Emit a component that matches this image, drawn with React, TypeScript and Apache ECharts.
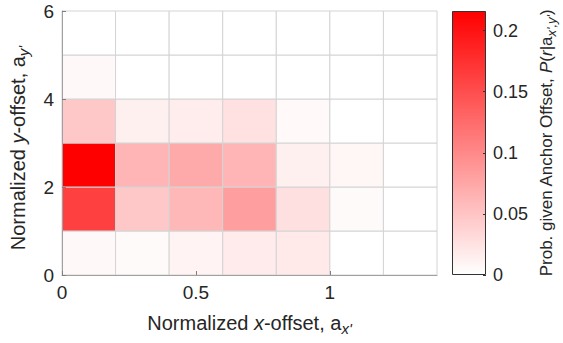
import React, { useEffect, useRef } from "react";
import * as echarts from "echarts";

// Bin centres (normalized x-offset and y-offset) and bin sizes
const xCenters = [0.1, 0.3, 0.5, 0.7, 0.9, 1.1, 1.3];
const yCenters = [0.5, 1.5, 2.5, 3.5, 4.5, 5.5];
const binWidth = 0.2;
const binHeight = 1;

// Probability per bin, one array per y-row (bottom to top)
const row0 = [0.006, 0.004, 0.01, 0.017, 0.019, 0, 0];
const row1 = [0.162, 0.047, 0.06, 0.082, 0.026, 0.004, 0];
const row2 = [0.216, 0.063, 0.072, 0.063, 0.013, 0.008, 0];
const row3 = [0.047, 0.013, 0.016, 0.025, 0.005, 0, 0];
const row4 = [0.006, 0, 0, 0, 0, 0, 0];
const row5 = [0, 0, 0, 0, 0, 0, 0];
const rows = [row0, row1, row2, row3, row4, row5];

const xTicks = [0, 0.5, 1];
const yTicks = [0, 2, 4, 6];
const cbTicks = [0, 0.05, 0.1, 0.15, 0.2];
const cbMax = 0.216;
const xMax = 1.4;
const yMax = 6;

const TXT = "#262626";
const FONT = "Liberation Sans";

export default function App() {
  const ref = useRef<HTMLDivElement>(null);
  useEffect(() => {
    document.body.style.margin = "0";
    if (!ref.current) return;
    const chart = echarts.init(ref.current, null, { renderer: "svg" });

    const data: number[][] = [];
    rows.forEach((r, yi) =>
      r.forEach((v, xi) => data.push([xCenters[xi], yCenters[yi], v]))
    );

    const base = { fontFamily: FONT, color: TXT };
    const rich = {
      n: { ...base, fontSize: 20, lineHeight: 23, verticalAlign: "top" },
      i: { ...base, fontSize: 20, lineHeight: 23, verticalAlign: "top", fontStyle: "italic" },
      s: { ...base, fontSize: 15, lineHeight: 15, padding: [14, 0, 0, 0], verticalAlign: "bottom", fontStyle: "italic" },
    };
    const richCb = {
      n: { ...base, fontSize: 17, lineHeight: 20, verticalAlign: "top" },
      i: { ...base, fontSize: 17, lineHeight: 20, verticalAlign: "top", fontStyle: "italic" },
      s: { ...base, fontSize: 13, lineHeight: 13, padding: [13, 0, 0, 0], verticalAlign: "bottom", fontStyle: "italic" },
    };

    const option: any = {
      animation: false,
      backgroundColor: "#ffffff",
      grid: [
        { left: 62, top: 11, width: 375, height: 264, containLabel: false, outerBoundsMode: "none" },
        { left: 452, top: 11, width: 34, height: 264, containLabel: false, outerBoundsMode: "none" },
      ],
      visualMap: {
        show: false,
        seriesIndex: 0,
        dimension: 2,
        min: 0,
        max: cbMax,
        inRange: { color: ["#ffffff", "#ff0000"] },
      },
      xAxis: [
        {
          type: "value",
          gridIndex: 0,
          min: 0,
          max: xMax,
          z: 5,
          splitLine: { show: false },
          axisLine: { show: true, lineStyle: { color: "#a0a0a0", width: 1 } },
          axisTick: { show: true, inside: true, length: 4, customValues: xTicks, lineStyle: { color: "#808080" } },
          axisLabel: { customValues: xTicks, color: TXT, fontFamily: FONT, fontSize: 19, margin: 8 },
          name: "{n|Normalized }{i|x}{n|-offset, a}{s|x'}",
          nameLocation: "middle",
          nameGap: 35,
          nameTextStyle: { rich },
        },
        {
          type: "category",
          gridIndex: 1,
          data: ["c"],
          show: false,
        },
      ],
      yAxis: [
        {
          type: "value",
          gridIndex: 0,
          min: 0,
          max: yMax,
          interval: 2,
          z: 5,
          splitLine: { show: false },
          axisLine: { show: true, lineStyle: { color: "#a0a0a0", width: 1 } },
          axisTick: { show: true, inside: true, length: 4, customValues: yTicks, lineStyle: { color: "#808080" } },
          axisLabel: { customValues: yTicks, color: TXT, fontFamily: FONT, fontSize: 19, margin: 8 },
          name: "{n|Normalized }{i|y}{n|-offset, a}{s|y'}",
          nameLocation: "middle",
          nameRotate: 90,
          nameGap: 31,
          nameTextStyle: { rich, padding: [0, 10, 0, 0] },
        },
        {
          type: "value",
          gridIndex: 1,
          position: "right",
          min: 0,
          max: cbMax,
          z: 5,
          splitLine: { show: false },
          axisLine: { show: false },
          axisTick: { show: true, inside: true, length: 3, customValues: cbTicks, lineStyle: { color: "#333333" } },
          axisLabel: { customValues: cbTicks, color: TXT, fontFamily: FONT, fontSize: 18, margin: 7 },
          name: "{n|Prob. given Anchor Offset, }{i|P}{n|(}{i|r}{n||a}{s|x',y'}{n|)}",
          nameLocation: "middle",
          nameRotate: 90,
          nameGap: 52,
          nameTextStyle: { rich: richCb },
        },
      ],
      series: [
        {
          type: "custom",
          xAxisIndex: 0,
          yAxisIndex: 0,
          encode: { x: 0, y: 1 },
          data,
          renderItem: (params: any, api: any) => {
            const x = api.value(0);
            const y = api.value(1);
            const p0 = api.coord([x - binWidth / 2, y + binHeight / 2]);
            const p1 = api.coord([x + binWidth / 2, y - binHeight / 2]);
            return {
              type: "rect",
              shape: { x: p0[0], y: p0[1], width: p1[0] - p0[0], height: p1[1] - p0[1] },
              style: { fill: api.visual("color"), stroke: "#d4d4d4", lineWidth: 1 },
            };
          },
        },
        {
          type: "bar",
          xAxisIndex: 1,
          yAxisIndex: 1,
          barWidth: "100%",
          data: [cbMax],
          itemStyle: {
            color: new echarts.graphic.LinearGradient(0, 0, 0, 1, [
              { offset: 0, color: "#ff0000" },
              { offset: 1, color: "#ffffff" },
            ]),
            borderColor: "#333333",
            borderWidth: 1,
          },
          silent: true,
        },
      ],
    };
    chart.setOption(option);
    return () => chart.dispose();
  }, []);
  return <div ref={ref} style={{ width: 563, height: 343 }} />;
}
